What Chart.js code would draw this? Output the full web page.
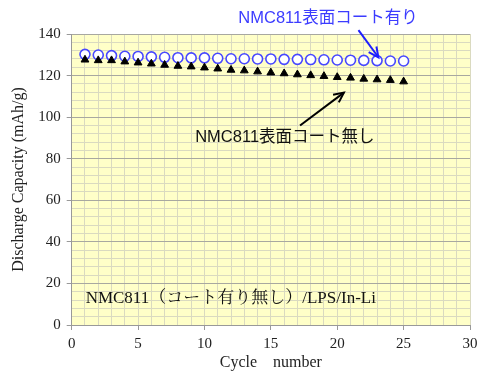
<!DOCTYPE html>
<html><head><meta charset="utf-8">
<script src="https://cdn.jsdelivr.net/npm/chart.js@4/dist/chart.umd.min.js"></script>
<style>html,body{margin:0;padding:0;background:#fff;}#wrap{width:479px;height:373px;}</style>
</head><body><div id="wrap"><canvas id="c" width="479" height="373"></canvas></div>
<script>
const cycles = [1,2,3,4,5,6,7,8,9,10,11,12,13,14,15,16,17,18,19,20,21,22,23,24,25];
const coated = [130.2,129.9,129.6,129.3,129.2,129.0,128.8,128.6,128.5,128.5,128.3,128.1,128.1,128.0,128.0,127.8,127.8,127.7,127.6,127.5,127.4,127.3,127.2,127.0,127.0];
const uncoated = [127.6,127.3,127.3,126.7,126.2,125.7,125.1,124.6,124.3,123.8,123.3,122.7,122.4,121.9,121.4,121.0,120.5,120.1,119.7,119.2,118.9,118.4,118.1,117.8,117.1];
const xTickLabels = [0,5,10,15,20,25,30];
const yTickLabels = [0,20,40,60,80,100,120,140];
const labelCoated = "NMC811表面コート有り";
const labelUncoated = "NMC811表面コート無し";
const noteText = "NMC811（コート有り無し）/LPS/In-Li";
const xTitle = "Cycle\u3000number";
const yTitle = "Discharge Capacity (mAh/g)";
// annotation anchor points in data units
const annCoated = {x:12.55, y:147.6};
const arrowCoated = {x1:21.6, y1:141.9, x2:23.1, y2:128.8};
const annUncoated = {x:9.3, y:90.4};
const arrowUncoated = {x1:17.2, y1:96.0, x2:20.5, y2:111.8};
const annNote = {x:1.05, y:12.8};

const serif = "'Liberation Serif','Times New Roman','Noto Serif CJK JP','Noto Sans CJK JP',serif";
const sans = "'Liberation Sans',Arial,'Noto Sans CJK JP',sans-serif";

const bgPlugin = {
  id:'bg',
  beforeDraw(chart){
    const {ctx, chartArea:a} = chart;
    ctx.save(); ctx.fillStyle='#FFFFC8'; ctx.fillRect(a.left,a.top,a.right-a.left,a.bottom-a.top); ctx.restore();
  }
};
function arrow(ctx,x1,y1,x2,y2,color){
  ctx.save(); ctx.strokeStyle=color; ctx.lineWidth=2;
  ctx.beginPath(); ctx.moveTo(x1,y1); ctx.lineTo(x2,y2); ctx.stroke();
  const ang=Math.atan2(y2-y1,x2-x1), L=11, w=0.45;
  ctx.beginPath();
  ctx.moveTo(x2-L*Math.cos(ang-w), y2-L*Math.sin(ang-w));
  ctx.lineTo(x2,y2);
  ctx.lineTo(x2-L*Math.cos(ang+w), y2-L*Math.sin(ang+w));
  ctx.stroke(); ctx.restore();
}
const annPlugin = {
  id:'ann',
  afterDraw(chart){
    const ctx=chart.ctx, xs=chart.scales.x, ys=chart.scales.y;
    const px=v=>xs.getPixelForValue(v), py=v=>ys.getPixelForValue(v);
    ctx.save();
    ctx.textBaseline='middle'; ctx.textAlign='left';
    ctx.font="16.5px "+sans; ctx.fillStyle='#3C3CFF';
    ctx.fillText(labelCoated, px(annCoated.x), py(annCoated.y));
    ctx.fillStyle='#111';
    ctx.fillText(labelUncoated, px(annUncoated.x), py(annUncoated.y));
    ctx.font="17px "+serif; ctx.fillStyle='#111';
    ctx.fillText(noteText, px(annNote.x), py(annNote.y));
    ctx.restore();
    arrow(ctx, px(arrowCoated.x1),py(arrowCoated.y1),px(arrowCoated.x2),py(arrowCoated.y2),'#1E1EFF');
    arrow(ctx, px(arrowUncoated.x1),py(arrowUncoated.y1),px(arrowUncoated.x2),py(arrowUncoated.y2),'#000');
  }
};

new Chart(document.getElementById('c'), {
  type:'scatter',
  data:{datasets:[
    {label:labelUncoated, data:cycles.map((c,i)=>({x:c,y:uncoated[i]})), pointStyle:'triangle', pointRadius:4.5, backgroundColor:'#000', borderColor:'#000', borderWidth:1, showLine:false},
    {label:labelCoated, data:cycles.map((c,i)=>({x:c,y:coated[i]})), pointStyle:'circle', pointRadius:5, backgroundColor:'#fff', borderColor:'#4848FF', borderWidth:1.6, showLine:false}
  ]},
  options:{
    responsive:false, animation:false, devicePixelRatio:1,
    layout:{padding:{left:9,right:9,top:34,bottom:0}},
    plugins:{legend:{display:false}, tooltip:{enabled:false}},
    scales:{
      x:{type:'linear', min:0, max:30,
        afterFit:s=>{s.height=48; s.paddingRight=0; s.paddingLeft=0;},
        ticks:{stepSize:1, autoSkip:false, maxRotation:0, color:'#222', font:{family:serif,size:15}, padding:5,
          callback:v=>xTickLabels.includes(v)?String(v):''},
        grid:{color:'#DADAC0', lineWidth:1, tickLength:5, tickColor:c=>xTickLabels.includes(c.tick&&c.tick.value)?'#999':'rgba(0,0,0,0)'},
        border:{color:'#999', width:1},
        title:{display:true, text:xTitle, color:'#222', font:{family:serif,size:16}, padding:{top:0,bottom:1}}
      },
      y:{type:'linear', min:0, max:140,
        ticks:{stepSize:4, autoSkip:false, color:'#222', font:{family:serif,size:15}, padding:6,
          callback:v=>yTickLabels.includes(v)?String(v):''},
        grid:{color:c=>(c.tick&&c.tick.value%20===0)?'#A8A8A0':'#DADAC0', lineWidth:1, tickLength:5,
          tickColor:c=>(c.tick&&c.tick.value%20===0)?'#999':'rgba(0,0,0,0)'},
        border:{color:'#999', width:1},
        title:{display:true, text:yTitle, color:'#222', font:{family:serif,size:16}, padding:{top:0,bottom:4}}
      }
    }
  },
  plugins:[bgPlugin, annPlugin]
});
</script></body></html>
